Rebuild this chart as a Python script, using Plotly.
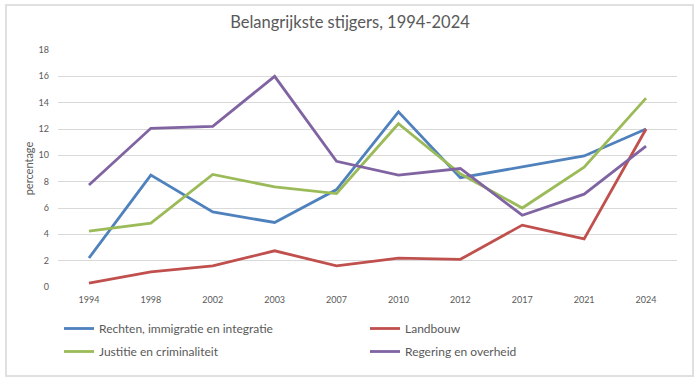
import plotly.graph_objects as go

years = ["1994", "1998", "2002", "2003", "2007", "2010", "2012", "2017", "2021", "2024"]
rechten = [2.2, 8.5, 5.7, 4.9, 7.4, 13.3, 8.3, 9.1, 9.95, 12.0]
landbouw = [0.3, 1.15, 1.6, 2.75, 1.6, 2.2, 2.1, 4.7, 3.65, 12.0]
justitie = [4.25, 4.85, 8.55, 7.6, 7.1, 12.4, 8.6, 6.0, 9.1, 14.35]
regering = [7.75, 12.05, 12.2, 16.0, 9.55, 8.5, 9.0, 5.45, 7.05, 10.7]

series = [
    ("Rechten, immigratie en integratie", rechten, "#4F81BD", "legend"),
    ("Landbouw", landbouw, "#C0504D", "legend2"),
    ("Justitie en criminaliteit", justitie, "#9BBB59", "legend"),
    ("Regering en overheid", regering, "#8064A2", "legend2"),
]

FONT = "Lato"
fig = go.Figure()
for i, (name, vals, col, lg) in enumerate(series):
    fig.add_trace(go.Scatter(x=years, y=vals, name=name, mode="lines", legend=lg,
                             legendgroup=f"g{i}",
                             line=dict(color=col, width=2.8)))

L, T, R, B = 58, 50, 677, 287
W, H = 700, 381
PW, PH = R - L, B - T
legfont = dict(size=12, color="#595959", family=FONT)
fig.update_layout(
    width=W, height=H,
    margin=dict(l=L, r=W - R, t=T, b=H - B),
    paper_bgcolor="white", plot_bgcolor="white",
    font=dict(family=FONT, color="#595959"),
    title=dict(text="Belangrijkste stijgers, 1994-2024", x=0.5, xanchor="center",
               y=1 - 22 / H, yanchor="middle",
               font=dict(size=16.5, color="#595959", family=FONT)),
    xaxis=dict(type="category", range=[-0.5, 9.5], showgrid=False, showline=False, zeroline=False,
               tickfont=dict(size=9, color="#595959"), ticks="", automargin=False,
               ticklabelstandoff=6),
    yaxis=dict(range=[0, 18], dtick=2, showgrid=True, gridcolor="#d9d9d9", gridwidth=1,
               zeroline=False, showline=False, automargin=False, ticklabelstandoff=8,
               tickfont=dict(size=9, color="#595959"),
               title=dict(text="percentage", font=dict(size=11, color="#595959"), standoff=2)),
    legend=dict(orientation="v", x=(59 - L) / PW, xanchor="left", y=(B - 314) / PH, yanchor="top",
                font=legfont, bgcolor="rgba(0,0,0,0)", itemwidth=30, tracegroupgap=4),
    legend2=dict(orientation="v", x=(365 - L) / PW, xanchor="left", y=(B - 314) / PH, yanchor="top",
                 font=legfont, bgcolor="rgba(0,0,0,0)", itemwidth=30, tracegroupgap=4),
    shapes=[dict(type="rect", xref="paper", yref="paper",
                 x0=(6 - L) / PW, x1=(693 - L) / PW,
                 y0=(B - 376) / PH, y1=(B - 5) / PH,
                 line=dict(color="#e0e0e0", width=2), layer="below")],
)

fig.write_html("out.html", config={"displayModeBar": False},
               post_script="document.body.style.margin='0';")
